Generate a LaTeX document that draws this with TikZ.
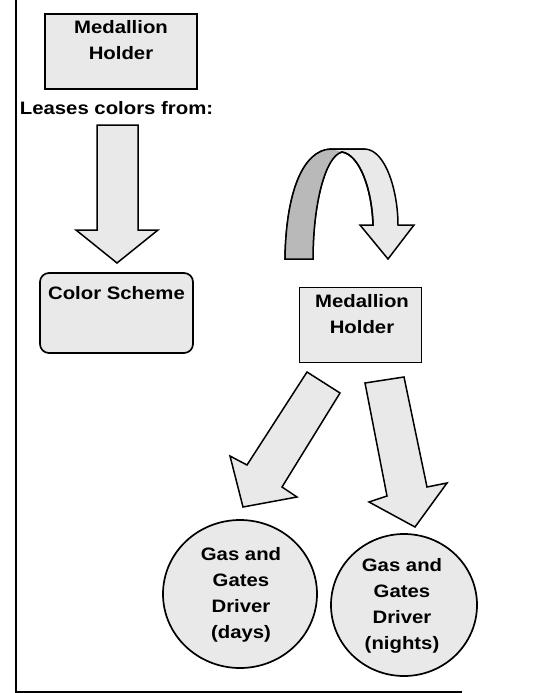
\documentclass[tikz,border=0pt]{standalone}
\usepackage{fontspec}
\newfontfamily\lab{Liberation Sans}[FakeStretch=1.13]
\usetikzlibrary{shapes.geometric}
\begin{document}
\begin{tikzpicture}[x=1pt,y=-1pt,
  box/.style={draw=black, line width=1.7pt, fill=gray!17, inner sep=0pt},
  txt/.style={font=\lab\bfseries\fontsize{18}{26}\selectfont, align=center, inner sep=0pt, anchor=north},
  blk/.style={draw=black, line width=1.5pt, fill=gray!17, line join=miter}]
\useasboundingbox (0,0) rectangle (534,693);
% frame
\draw[line width=2.8pt] (16,0) -- (16,692);
\draw[line width=1.8pt] (15,692) -- (462,692);
% top medallion holder
\node[box, minimum width=152pt, minimum height=75pt] (mh1) at (121,51.5) {};
\node[txt] (mh1t) at (121,20.5) {Medallion\\Holder};
\node[txt] (lease) at (116.5,101.5) {Leases colors from:};
% color scheme
\node[box, rounded corners=9pt, minimum width=153pt, minimum height=80pt] (cs) at (116.5,313) {};
\node[txt] (cst) at (116.5,286) {Color Scheme};
% right medallion holder
\node[box, minimum width=122pt, minimum height=75pt] (mh2) at (360.5,325) {};
\node[txt] (mh2t) at (362,294.5) {Medallion\\Holder};
% circles
\node[box, ellipse, minimum width=154pt, minimum height=148pt] (gd) at (240,594) {};
\node[txt] (gdt) at (241,547.5) {Gas and\\Gates\\Driver\\(days)};
\node[box, ellipse, minimum width=146pt, minimum height=142pt] (gn) at (404,605) {};
\node[txt] (gnt) at (402,558) {Gas and\\Gates\\Driver\\(nights)};
% down block arrow
\draw[blk] (97,125) -- (138,125) -- (138,230) -- (158,230) -- (117,263) -- (76,230) -- (97,230) -- cycle;
% curved arrow
\coordinate (cl) at (285,259);
\coordinate (ci) at (313,259);
\coordinate (pk) at (342,152);
\draw[blk] (cl) .. controls (286,192) and (303,150) .. (331,149) -- (365,149)
  .. controls (386,150) and (398,192) .. (398,225) -- (414,225) -- (388,259) -- (360,225) -- (373,225)
  .. controls (372,190) and (360,155) .. (pk) .. controls (325,156) and (313,205) .. (ci) -- cycle;
\fill[gray!55] (cl) .. controls (286,192) and (303,150) .. (331,149) -- (pk)
  .. controls (325,156) and (313,205) .. (ci) -- cycle;
\draw[line width=1.5pt] (cl) .. controls (286,192) and (303,150) .. (331,149) -- (365,149);
\draw[line width=1.5pt] (373,225) .. controls (372,190) and (360,155) .. (pk) .. controls (325,156) and (313,205) .. (ci) -- (cl);
% diagonal arrows
\draw[blk] (307,372) -- (340,393) -- (282,487) -- (297,497) -- (243,507) -- (230,456) -- (247,465) -- cycle;
\draw[blk] (365,383) -- (404,377) -- (427,487) -- (447,483) -- (415,527) -- (369,502) -- (387,496) -- cycle;
\end{tikzpicture}
\end{document}
